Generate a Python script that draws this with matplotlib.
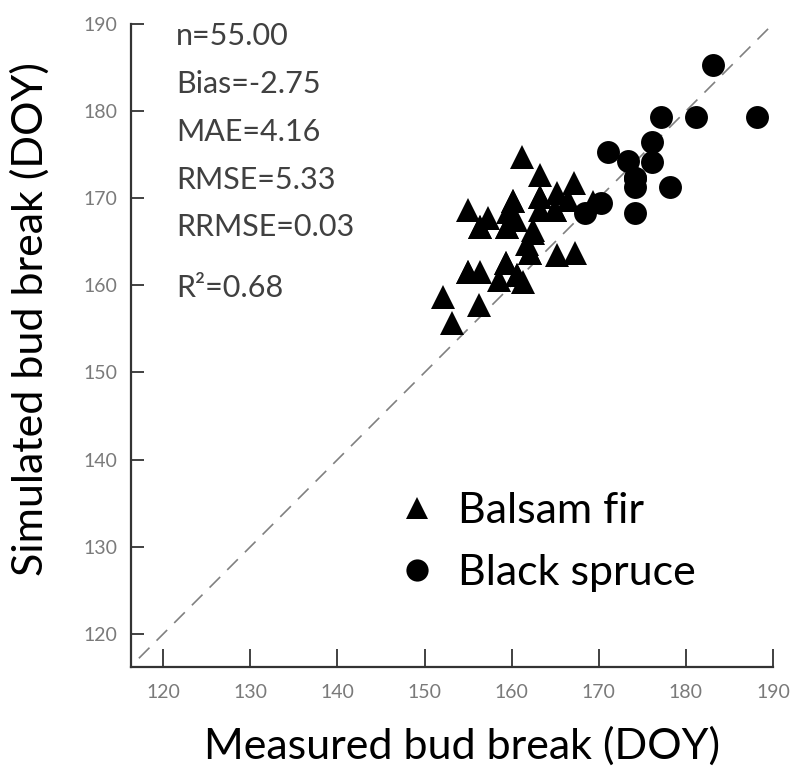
import matplotlib.pyplot as plt
from matplotlib.lines import Line2D

plt.rcParams['font.family'] = ['Lato', 'DejaVu Sans']

# Balsam fir (triangles)
fir_measured = [161.2, 163.2, 163.2, 165.2, 167.1, 166.5, 165.0, 169.3, 155.0, 157.3,
                160.1, 159.6, 156.4, 159.5, 162.4, 162.4, 162.1, 165.2, 167.3, 155.0,
                156.4, 159.3, 160.6, 158.5, 161.3, 152.1, 156.2, 153.2, 163.3, 161.8,
                160.5, 163.2, 160.1, 165.0, 159.5, 162.1, 159.3, 155.0, 160.6, 156.4]
fir_simulated = [174.7, 172.7, 170.1, 170.6, 171.8, 169.8, 168.6, 169.6, 168.6, 167.7,
                 169.7, 168.4, 166.7, 166.7, 166.4, 166.0, 163.7, 163.5, 163.7, 161.5,
                 161.5, 162.6, 161.2, 160.6, 160.4, 158.7, 157.8, 155.7, 168.6, 164.8,
                 167.5, 170.1, 169.7, 168.6, 166.7, 163.7, 162.6, 161.5, 161.2, 166.7]

# Black spruce (circles)
spruce_measured = [183.1, 177.2, 181.2, 188.2, 171.1, 176.1, 173.3, 176.1, 174.2, 174.2,
                   178.2, 174.2, 170.2, 168.4, 174.2]
spruce_simulated = [185.3, 179.3, 179.3, 179.3, 175.3, 176.5, 174.3, 174.2, 172.3, 171.3,
                    171.3, 168.3, 169.5, 168.3, 172.3]

one_to_one = [117.2, 190]
ticks = [120, 130, 140, 150, 160, 170, 180, 190]

stats = ["n=55.00", "Bias=-2.75", "MAE=4.16", "RMSE=5.33", "RRMSE=0.03", "R\u00b2=0.68"]
stats_y = [0.981, 0.907, 0.832, 0.757, 0.684, 0.589]

fig = plt.figure(figsize=(7.96, 7.72), dpi=100)
ax = fig.add_axes([0.1646, 0.136, 0.8065, 0.833])

ax.plot(one_to_one, one_to_one, color='#808080', lw=1.2, dashes=(9, 6), zorder=1)
ax.plot(fir_measured, fir_simulated, '^', color='black', ms=17, mew=0, zorder=3)
ax.plot(spruce_measured, spruce_simulated, 'o', color='black', ms=16.5, mew=0, zorder=3)

ax.set_xlim(116.3, 190)
ax.set_ylim(116.2, 190)
ax.set_xticks(ticks)
ax.set_yticks(ticks)

for s in ['top', 'right']:
    ax.spines[s].set_visible(False)
for s in ['left', 'bottom']:
    ax.spines[s].set_color('#333333')
    ax.spines[s].set_linewidth(1.6)

ax.tick_params(axis='x', direction='in', length=13, width=1.3, color='#333333',
               labelsize=14, labelcolor='#7a7a7a', pad=12)
ax.tick_params(axis='y', direction='in', length=9, width=1.3, color='#333333',
               labelsize=14, labelcolor='#7a7a7a', pad=10)

for label, yy in zip(stats, stats_y):
    ax.text(0.07, yy, label, transform=ax.transAxes, fontsize=22, color='#404040',
            va='center', ha='left')

ax.set_xlabel("Measured bud break (DOY)", fontsize=31)
ax.set_ylabel("Simulated bud break (DOY)", fontsize=31)
ax.xaxis.set_label_coords(0.516, -0.092)
ax.yaxis.set_label_coords(-0.126, 0.541)

handles = [Line2D([], [], marker='^', color='black', ls='none', ms=16, mew=0),
           Line2D([], [], marker='o', color='black', ls='none', ms=16, mew=0)]
ax.legend(handles, ["Balsam fir", "Black spruce"], loc='upper left',
          bbox_to_anchor=(0.378, 0.306), frameon=False, fontsize=31,
          handlelength=1.0, handletextpad=0.45, labelspacing=0.56, borderpad=0)

plt.savefig("out.png", dpi=100)
